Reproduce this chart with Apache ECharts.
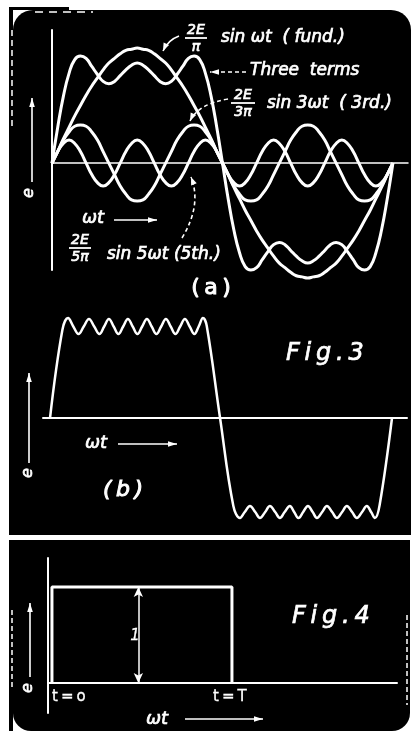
<!DOCTYPE html>
<html>
<head>
<meta charset="utf-8">
<script src="https://cdn.jsdelivr.net/npm/echarts@6/dist/echarts.min.js"></script>
<style>
  html, body { margin: 0; padding: 0; background: #fff; }
  #chart { width: 411px; height: 735px; }
</style>
</head>
<body>
<div id="chart"></div>
<script>
// (a) sampled every 6 degrees of wt, in units of 2E/pi
const angles = [0,6,12,18,24,30,36,42,48,54,60,66,72,78,84,90,96,102,108,114,120,126,132,138,144,150,156,162,168,174,180,
  186,192,198,204,210,216,222,228,234,240,246,252,258,264,270,276,282,288,294,300,306,312,318,324,330,336,342,348,354,360];
const fundamental = [0,.10,.21,.31,.41,.50,.59,.67,.74,.81,.87,.91,.95,.98,.99,1,.99,.98,.95,.91,.87,.81,.74,.67,.59,.50,.41,.31,.21,.10,0,
  -.10,-.21,-.31,-.41,-.50,-.59,-.67,-.74,-.81,-.87,-.91,-.95,-.98,-.99,-1,-.99,-.98,-.95,-.91,-.87,-.81,-.74,-.67,-.59,-.50,-.41,-.31,-.21,-.10,0];
const thirdHarmonic = [0,.10,.20,.27,.32,.33,.32,.27,.20,.10,0,-.10,-.20,-.27,-.32,-.33,-.32,-.27,-.20,-.10,
  0,.10,.20,.27,.32,.33,.32,.27,.20,.10,0,-.10,-.20,-.27,-.32,-.33,-.32,-.27,-.20,-.10,
  0,.10,.20,.27,.32,.33,.32,.27,.20,.10,0,-.10,-.20,-.27,-.32,-.33,-.32,-.27,-.20,-.10,0];
const fifthHarmonic = [0,.10,.17,.20,.17,.10,0,-.10,-.17,-.20,-.17,-.10,
  0,.10,.17,.20,.17,.10,0,-.10,-.17,-.20,-.17,-.10,
  0,.10,.17,.20,.17,.10,0,-.10,-.17,-.20,-.17,-.10,
  0,.10,.17,.20,.17,.10,0,-.10,-.17,-.20,-.17,-.10,
  0,.10,.17,.20,.17,.10,0,-.10,-.17,-.20,-.17,-.10,0];
const threeTerms = [0,.31,.58,.78,.90,.93,.91,.84,.77,.71,.69,.71,.76,.81,.85,.87,.85,.81,.76,.71,.69,.71,.77,.84,.91,.93,.90,.78,.58,.31,0,
  -.31,-.58,-.78,-.90,-.93,-.91,-.84,-.77,-.71,-.69,-.71,-.76,-.81,-.85,-.87,-.85,-.81,-.76,-.71,-.69,-.71,-.77,-.84,-.91,-.93,-.90,-.78,-.58,-.31,0];

// (b) many-term wave, read peak by peak
const fig3Angles = [0,13,19,24.5,30,35.5,41,46.5,52,57,62,67,72,77,82,87,92,97,102,107,112,117,122,127,132,137,142,147,152,156.5,161,165,179,
  193,200,205,210.5,216,221,226.5,231.5,237,242,247,252.5,257,261.5,266.5,271.5,276.5,281,286.5,291.5,297,302,307.5,312.5,318,323,328.5,333.5,338,342,347,360];
const fig3Values = [0,.88,1,.915,.84,.915,.99,.915,.84,.915,.99,.915,.84,.915,.99,.915,.84,.915,.99,.915,.84,.915,.99,.915,.84,.915,.99,.915,.84,.915,1,.92,0,
  -.88,-1,-.94,-.88,-.94,-1,-.94,-.88,-.94,-1,-.94,-.88,-.94,-1,-.94,-.88,-.94,-1,-.94,-.88,-.94,-1,-.94,-.88,-.94,-1,-.94,-.88,-.94,-1,-.87,0];

// Fig.4 pulse, t in units of T
const pulseT = [0, 0, 1, 1];
const pulseE = [0, 1, 1, 0];
const pulseArrowAt = 0.48;

const W = '#fff';
const FONT = '"DejaVu Sans", sans-serif';
const TS = '\u2009'; // thin space, the lettering is widely spaced

const pairs = (xs, ys) => xs.map((x, i) => [x, ys[i]]);

function txt(x, y, s, size, o) {
  o = o || {};
  return {
    type: 'text', x: x, y: y, rotation: o.rot || 0, z: 100, silent: true,
    style: {
      text: s, fill: W, stroke: W, lineWidth: o.lw === undefined ? 0.7 : o.lw,
      font: (o.style || 'italic') + ' normal ' + size + 'px ' + FONT,
      textAlign: o.align || 'left', textVerticalAlign: 'middle'
    }
  };
}
function seg(x1, y1, x2, y2, w, dash) {
  return { type: 'line', z: 100, silent: true, shape: { x1, y1, x2, y2 },
    style: { stroke: W, lineWidth: w || 1.5, lineDash: dash || null } };
}
function head(x, y, ang, len, wid) {
  const bx = x - len * Math.cos(ang), by = y - len * Math.sin(ang);
  const px = -Math.sin(ang) * wid, py = Math.cos(ang) * wid;
  return { type: 'polygon', z: 100, silent: true,
    shape: { points: [[x, y], [bx + px, by + py], [bx - px, by - py]] }, style: { fill: W } };
}
function arrow(x1, y1, x2, y2, w, dash) {
  return [seg(x1, y1, x2, y2, w, dash), head(x2, y2, Math.atan2(y2 - y1, x2 - x1), 9, 2.8)];
}
function curvedArrow(x1, y1, cx, cy, x2, y2, dash) {
  return [
    { type: 'bezierCurve', z: 100, silent: true, shape: { x1, y1, x2, y2, cpx1: cx, cpy1: cy },
      style: { stroke: W, lineWidth: 1.6, fill: null, lineDash: dash || null } },
    head(x2, y2, Math.atan2(y2 - cy, x2 - cx), 8, 3)
  ];
}
function fraction(cx, y, top, bottom, half) {
  return [txt(cx, y, top, 14, { align: 'center' }), seg(cx - half, y + 8, cx + half, y + 8, 1.8),
    txt(cx, y + 17, bottom, 14, { align: 'center' })];
}

// page frame (scanned card look)
const frame = [
  { type: 'rect', z: -10, silent: true, shape: { x: 9, y: 7, width: 60, height: 724 }, style: { fill: '#000' } },
  { type: 'rect', z: -9, silent: true, shape: { x: 13, y: 10, width: 22, height: 22 }, style: { fill: W } },
  { type: 'rect', z: -9, silent: true, shape: { x: 13, y: 709, width: 22, height: 22 }, style: { fill: W } },
  { type: 'rect', z: -8, silent: true, shape: { x: 13, y: 10, width: 398, height: 525, r: [20, 20, 0, 0] }, style: { fill: '#000' } },
  { type: 'rect', z: -8, silent: true, shape: { x: 13, y: 540, width: 397, height: 191, r: [0, 0, 18, 18] }, style: { fill: '#000' } },
  { type: 'rect', z: -7, silent: true, shape: { x: 0, y: 535, width: 411, height: 5 }, style: { fill: W } },
  seg(35, 12, 93, 12, 1.5, [8, 6]),
  seg(12, 30, 12, 130, 1.5, [6, 4]),
  seg(12, 610, 12, 690, 1.5, [5, 3]),
  seg(407, 615, 407, 705, 1.5, [5, 3])
];

const notes = [].concat(
  // (a)
  fraction(196, 30, '2E', 'π', 11),
  [txt(221, 38, 'sin ωt  ( fund.)', 17)],
  curvedArrow(179, 36, 168, 40, 163, 51),
  [txt(250, 71, 'Three  terms', 17)],
  arrow(246, 72, 210, 72, 1.6, [4, 3]),
  fraction(243, 95, '2E', '3π', 12),
  [txt(267, 104, 'sin 3ωt  ( 3rd.)', 17)],
  curvedArrow(228, 99, 198, 104, 190, 121, [4, 3]),
  [txt(82, 218, 'ωt', 18)],
  arrow(114, 220, 157, 220, 1.6),
  fraction(80, 240, '2E', '5π', 11),
  [txt(107, 255, 'sin 5ωt (5th.)', 17)],
  curvedArrow(182, 238, 202, 205, 191, 177, [4, 3]),
  [txt(211, 288, '(' + TS + 'a' + TS + ')', 22, { style: 'normal', align: 'center', lw: 1 })],
  arrow(32, 182, 32, 98, 1.6),
  [txt(29, 193, 'e', 16, { rot: Math.PI / 2, align: 'center' })],
  // (b)
  [txt(286, 354, ['F', 'i', 'g', '.', '3'].join(TS), 24)],
  [txt(85, 443, 'ωt', 18)],
  arrow(118, 444, 177, 444, 1.6),
  [txt(123, 490, '(' + TS + 'b' + TS + ')', 22, { align: 'center', lw: 1 })],
  arrow(29, 463, 29, 373, 1.6),
  [txt(28, 473, 'e', 16, { rot: Math.PI / 2, align: 'center' })],
  // Fig.4
  [txt(292, 617, ['F', 'i', 'g', '.', '4'].join(TS), 24)],
  [txt(52, 697, 't' + TS + '=' + TS + 'o', 15, { style: 'normal', lw: 0.3 })],
  [txt(213, 697, 't' + TS + '=' + TS + 'T', 15, { style: 'normal', lw: 0.3 })],
  [txt(146, 719, 'ωt', 18)],
  arrow(185, 719, 263, 719, 1.6),
  arrow(30, 677, 30, 603, 1.6),
  [txt(28, 688, 'e', 16, { rot: Math.PI / 2, align: 'center' })],
  [txt(135, 636, '1', 15, { align: 'center', lw: 0.3 })]
);

const hidden = { axisLabel: { show: false }, axisTick: { show: false }, splitLine: { show: false } };
const lineAxis = (w, show) => ({ show: show, onZero: true, lineStyle: { color: W, width: w } });

const curve = (name, data, w) => ({
  name: name, type: 'line', xAxisIndex: 0, yAxisIndex: 0, data: data,
  smooth: true, showSymbol: false, clip: false, silent: true,
  lineStyle: { color: W, width: w }
});

const chart = echarts.init(document.getElementById('chart'));
chart.setOption({
  animation: false,
  backgroundColor: '#fff',
  grid: [
    { left: 52, top: 30, width: 356, height: 240 },
    { left: 43, top: 298, width: 364, height: 240 },
    { left: 48, top: 558, width: 349, height: 155 }
  ],
  xAxis: [
    Object.assign({ type: 'value', gridIndex: 0, min: 0, max: 375.9, axisLine: lineAxis(1.5, true) }, hidden),
    Object.assign({ type: 'value', gridIndex: 1, min: -7.4, max: 375.8, axisLine: lineAxis(2, true) }, hidden),
    Object.assign({ type: 'value', gridIndex: 2, min: -0.022, max: 1.917, axisLine: lineAxis(2, true) }, hidden)
  ],
  yAxis: [
    Object.assign({ type: 'value', gridIndex: 0, min: -0.93, max: 1.157,
      axisLine: { show: true, onZero: false, lineStyle: { color: W, width: 2 } } }, hidden),
    Object.assign({ type: 'value', gridIndex: 1, min: -1.2, max: 1.2, axisLine: { show: false } }, hidden),
    Object.assign({ type: 'value', gridIndex: 2, min: -0.3125, max: 1.302,
      axisLine: { show: true, onZero: false, lineStyle: { color: W, width: 2 } } }, hidden)
  ],
  graphic: { elements: frame.concat(notes) },
  series: [
    curve('fund.', pairs(angles, fundamental), 3),
    curve('3rd.', pairs(angles, thirdHarmonic), 3),
    curve('5th.', pairs(angles, fifthHarmonic), 3),
    curve('Three terms', pairs(angles, threeTerms), 3),
    {
      name: 'Fig.3', type: 'line', xAxisIndex: 1, yAxisIndex: 1, data: pairs(fig3Angles, fig3Values),
      smooth: 0.4, showSymbol: false, clip: false, silent: true,
      lineStyle: { color: W, width: 2.5 }
    },
    {
      name: 'Fig.4', type: 'line', xAxisIndex: 2, yAxisIndex: 2, data: pairs(pulseT, pulseE),
      showSymbol: false, clip: false, silent: true,
      lineStyle: { color: W, width: 3 },
      markLine: {
        silent: true, symbol: ['arrow', 'arrow'], symbolSize: [7, 10],
        label: { show: false },
        lineStyle: { color: W, width: 1.5, type: 'solid' },
        data: [[{ coord: [pulseArrowAt, 0] }, { coord: [pulseArrowAt, 1] }]]
      }
    }
  ]
});
</script>
</body>
</html>
